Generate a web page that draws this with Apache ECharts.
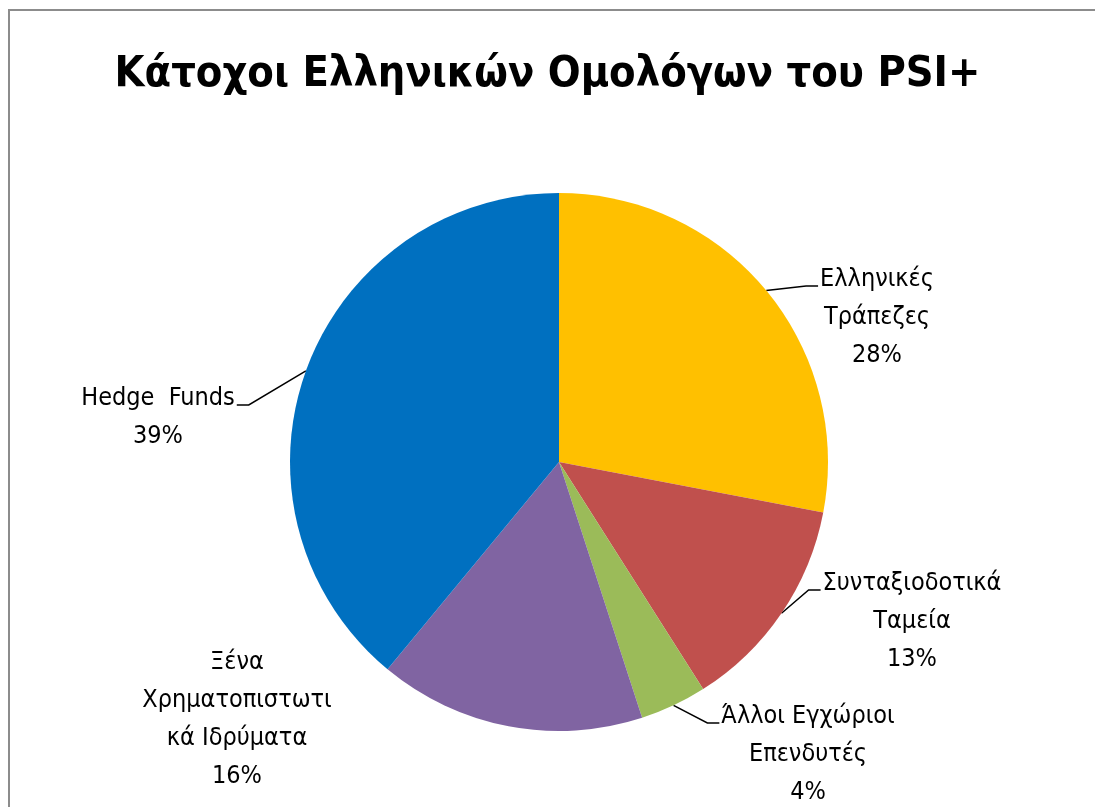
<html>
    <head>
        <meta charset="utf-8">
        <script src="https://cdn.jsdelivr.net/npm/echarts@6/dist/echarts.min.js"></script>
    </head>
    <body style="margin:0">
        <style>
            #main {
                position: absolute;
                left: 0;
                top: 0;
                width: 1095px;
                height: 807px;
                background: #fff;
            }
        </style>
        <div id="main"></div>

        <script>

            var TITLE = 'Κάτοχοι Ελληνικών Ομολόγων του PSI+';

            // clockwise from 12 o'clock
            var categories = [
                'Ελληνικές\nΤράπεζες',
                'Συνταξιοδοτικά\nΤαμεία',
                'Άλλοι Εγχώριοι\nΕπενδυτές',
                'Ξένα\nΧρηματοπιστωτι\nκά Ιδρύματα',
                'Hedge  Funds'
            ];
            var shares = [28, 13, 4, 16, 39];
            var colors = ['#FFC000', '#C0504D', '#9BBB59', '#8064A2', '#0070C0'];

            // label placement: centre x, top y, side the leader line joins
            var labelPos = [
                {x: 877, y: 260, side: 'left'},
                {x: 912, y: 564, side: 'left'},
                {x: 808, y: 697, side: 'left'},
                {x: 237, y: 643, side: 'none'},
                {x: 158, y: 379, side: 'right'}
            ];

            var FONT = "'Liberation Sans Narrow', 'DejaVu Sans Condensed', sans-serif";
            var LINE_H = 38;

            var chart = echarts.init(document.getElementById('main'), null, {renderer: 'canvas'});

            var data = categories.map(function (name, i) {
                var item = {
                    name: name,
                    value: shares[i],
                    itemStyle: {color: colors[i]}
                };
                if (labelPos[i].side === 'none') {
                    item.labelLine = {show: false};
                }
                return item;
            });

            chart.setOption({
                animation: false,
                title: {
                    text: TITLE,
                    left: 'center',
                    top: 48,
                    textStyle: {
                        fontFamily: FONT,
                        fontWeight: 'bold',
                        fontSize: 43,
                        color: '#000'
                    }
                },
                graphic: [{
                    type: 'rect',
                    shape: {x: 9, y: 10, width: 1200, height: 900},
                    style: {fill: 'none', stroke: '#8c8c8c', lineWidth: 2},
                    silent: true
                }],
                series: [{
                    type: 'pie',
                    center: [559, 462],
                    radius: 269,
                    startAngle: 90,
                    clockwise: true,
                    avoidLabelOverlap: false,
                    percentPrecision: 0,
                    emphasis: {disabled: true},
                    label: {
                        show: true,
                        position: 'outside',
                        formatter: '{b}\n{d}%',
                        fontFamily: FONT,
                        fontSize: 25,
                        lineHeight: LINE_H,
                        color: '#000'
                    },
                    labelLine: {
                        show: true,
                        length: 20,
                        length2: 12,
                        smooth: false,
                        lineStyle: {color: '#000', width: 1.5}
                    },
                    labelLayout: function (params) {
                        var p = labelPos[params.dataIndex];
                        var w = params.labelRect.width;
                        var out = {x: p.x, y: p.y, align: 'center', verticalAlign: 'top'};
                        if (p.side !== 'none' && params.labelLinePoints) {
                            var start = params.labelLinePoints[0];
                            var ey = p.y + 26;
                            var ex = p.side === 'left' ? p.x - w / 2 - 2 : p.x + w / 2 + 2;
                            var bx = p.side === 'left' ? ex - 12 : ex + 12;
                            out.labelLinePoints = [[start[0], start[1]], [bx, ey], [ex, ey]];
                        }
                        return out;
                    },
                    data: data
                }]
            });

        </script>
    </body>
</html>
